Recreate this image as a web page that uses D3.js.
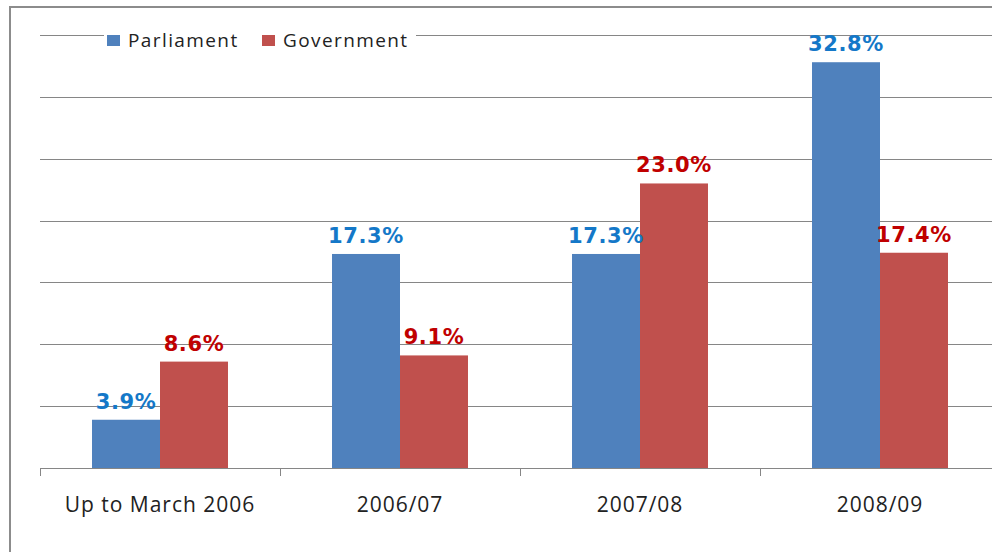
<!DOCTYPE html>
<html><head><meta charset="utf-8">
<script src="https://cdn.jsdelivr.net/npm/d3@7"></script>
<style>body{margin:0;background:#fff}svg{display:block}</style>
</head><body>
<svg id="c" width="992" height="552"></svg>
<script>
const categories = ["Up to March 2006", "2006/07", "2007/08", "2008/09"];
const seriesNames = ["Parliament", "Government"];
const parliament = [3.9, 17.3, 17.3, 32.8];
const government = [8.6, 9.1, 23.0, 17.4];
const yTicks = [0, 5, 10, 15, 20, 25, 30, 35];
const barColors = ["#4F81BD", "#C0504D"];
const labelColors = ["#1478C8", "#C00000"];

const svg = d3.select("#c");
const m = {left: 40, top: 35, right: 1000, bottom: 468};
const x = d3.scaleBand().domain(categories).range([m.left, m.right]).paddingInner(0).paddingOuter(0);
const xs = d3.scaleBand().domain(seriesNames).range([0, x.bandwidth()]).paddingInner(0).paddingOuter(0.765);
const y = d3.scaleLinear().domain([0, 35]).range([m.bottom, m.top]);

// frame
svg.append("rect").attr("x", 10).attr("y", 7).attr("width", 1100).attr("height", 700)
  .attr("fill", "none").attr("stroke", "#8c8c8c").attr("stroke-width", 2);

// gridlines
svg.append("g").selectAll("line").data(yTicks.slice(1)).join("line")
  .attr("x1", m.left).attr("x2", 992).attr("y1", d => Math.round(y(d)) + 0.5).attr("y2", d => Math.round(y(d)) + 0.5)
  .attr("stroke", "#868686").attr("stroke-width", 1);

// x axis
const xAxis = d3.axisBottom(x).tickSize(0).tickPadding(29);
const gx = svg.append("g").attr("transform", `translate(0,${m.bottom})`).call(xAxis);
gx.select(".domain").remove();
gx.selectAll("text").attr("font-family", "'Open Sans', sans-serif").attr("font-size", 21)
  .attr("letter-spacing", 1).attr("fill", "#222");
svg.append("line").attr("x1", m.left).attr("x2", 992).attr("y1", m.bottom + 0.5).attr("y2", m.bottom + 0.5)
  .attr("stroke", "#868686");
const bounds = categories.map(c => x(c)).concat([m.right]);
svg.append("g").selectAll("line").data(bounds).join("line")
  .attr("x1", d => Math.round(d) + 0.5).attr("x2", d => Math.round(d) + 0.5)
  .attr("y1", m.bottom).attr("y2", m.bottom + 8).attr("stroke", "#868686");

// bars
const rows = categories.map((c, i) => ({c, vals: [parliament[i], government[i]]}));
const groups = svg.append("g").selectAll("g").data(rows).join("g")
  .attr("transform", d => `translate(${x(d.c)},0)`);
groups.selectAll("rect").data(d => d.vals.map((v, k) => ({v, k}))).join("rect")
  .attr("x", d => xs(seriesNames[d.k]))
  .attr("width", xs.bandwidth())
  .attr("y", d => y(d.v))
  .attr("height", d => y(0) - y(d.v))
  .attr("fill", d => barColors[d.k]);
groups.selectAll("text").data(d => d.vals.map((v, k) => ({v, k}))).join("text")
  .attr("x", d => xs(seriesNames[d.k]) + xs.bandwidth() / 2)
  .attr("y", d => y(d.v) - 11)
  .attr("text-anchor", "middle")
  .attr("font-family", "'DejaVu Sans', Verdana, sans-serif")
  .attr("font-weight", "bold")
  .attr("font-size", 21)
  .attr("letter-spacing", 0.6)
  .attr("fill", d => labelColors[d.k])
  .text(d => d.v.toFixed(1) + "%");

// legend
const lg = svg.append("g");
lg.append("rect").attr("x", 104).attr("y", 28).attr("width", 312).attr("height", 24).attr("fill", "#fff");
const legendX = [107, 262];
seriesNames.forEach((s, i) => {
  lg.append("rect").attr("x", legendX[i]).attr("y", 35).attr("width", 13).attr("height", 11).attr("fill", barColors[i]);
  lg.append("text").attr("x", legendX[i] + 21).attr("y", 47)
    .attr("font-family", "'Open Sans', sans-serif").attr("font-size", 19).attr("letter-spacing", 1.4).attr("fill", "#222")
    .text(s);
});
</script>
</body></html>
